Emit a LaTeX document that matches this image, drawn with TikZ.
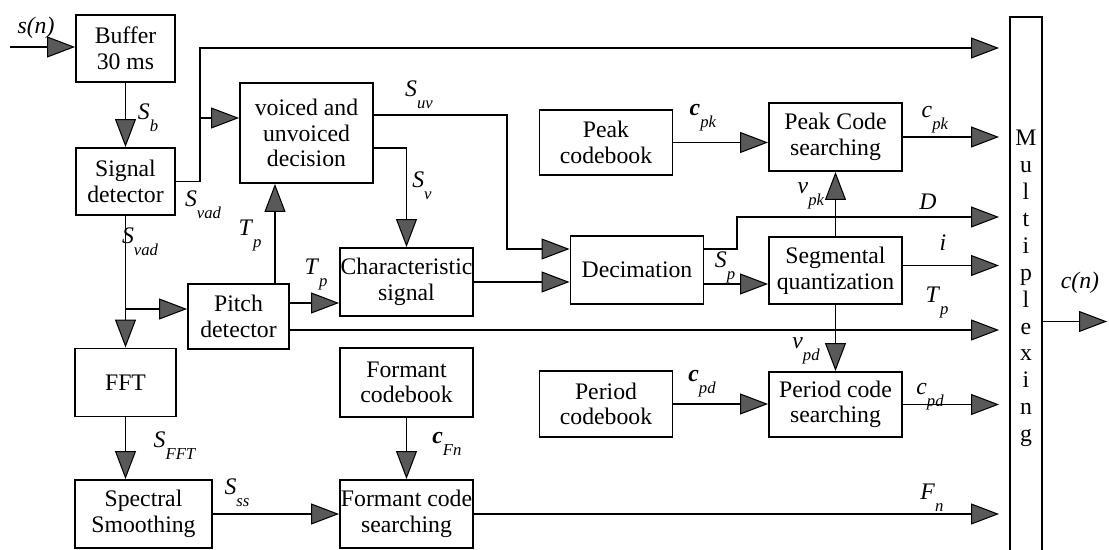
\documentclass[tikz,border=0pt]{standalone}
\usepackage{fontspec}
\setmainfont{Liberation Serif}
\usetikzlibrary{arrows.meta}
\newcommand{\lbl}[2]{\textit{#1}\raisebox{-1.1ex}{\fontsize{9.5}{9.5}\selectfont\textit{#2}}}
\newcommand{\tocol}{0.2cm}

\begin{document}
\begin{tikzpicture}[x=0.02cm,y=-0.02cm,line width=1.1pt,
  blk/.style={draw,inner sep=0pt,align=center,minimum width=1.98cm,minimum height=1.34cm,
    font=\fontsize{13.5}{14.6}\selectfont},
  wide/.style={blk,minimum width=2.66cm},
  flow/.style={-{Triangle[length=0.56cm,width=0.42cm,fill=black!65,line width=0.6pt]}},
  tomux/.style={flow,shorten >=\tocol},
  tag/.style={font=\fontsize{13.5}{14}\selectfont,inner sep=0pt}]

 \clip (0,0) rectangle (1109,550);

 % blocks
 \node[blk] (buf) at (125.5,48.5) {Buffer\\30 ms};
 \node[blk] (det) at (125.5,181.5) {Signal\\detector};
 \node[wide,minimum height=2cm] (vud) at (306.5,133) {voiced and\\unvoiced\\decision};
 \node[wide,minimum height=1.36cm] (chr) at (406.5,282) {Characteristic\\signal};
 \node[wide,minimum height=1.36cm] (dec) at (637,270) {Decimation};
 \node[wide,minimum height=1.3cm] (pkb) at (606,142.5) {Peak\\codebook};
 \node[wide,minimum height=1.36cm] (pks) at (835.5,137) {Peak Code\\searching};
 \node[wide] (seg) at (835.5,270.5) {Segmental\\quantization};
 \node[wide,minimum height=1.32cm] (pdb) at (606,404) {Period\\codebook};
 \node[wide,minimum height=1.3cm] (pds) at (835.5,404.5) {Period code\\searching};
 \node[blk,minimum width=2.02cm,minimum height=1.3cm] (pit) at (238.5,316.5) {Pitch\\detector};
 \node[blk,minimum width=2.02cm,minimum height=1.36cm] (fft) at (125.5,382.5) {FFT};
 \node[wide,minimum height=1.38cm] (fcb) at (406.5,382.5) {Formant\\codebook};
 \node[blk,minimum width=2.74cm,minimum height=1.36cm] (spc) at (143.5,514) {Spectral\\Smoothing};
 \node[wide,minimum height=1.36cm] (fcs) at (406.5,514) {Formant code\\searching};
 \node[draw,inner sep=0pt,align=center,minimum width=0.64cm,minimum height=10.86cm,
   font=\fontsize{13.5}{15.3}\selectfont] (mux) at (1026,288.5)
   {M\\u\\l\\t\\i\\p\\l\\e\\x\\i\\n\\g};

 % junctions
 \coordinate (sn) at (10,47);
 \coordinate (jtop) at (200,48);
 \coordinate (jvud) at (200,118);
 \coordinate (jpit) at (125,309);
 \coordinate (ptp) at ([xshift=0.73cm]pit.north);
 \coordinate (pto) at ([yshift=0.27cm]pit.east);
 \coordinate (ptl) at ([yshift=-0.27cm]pit.east);
 \coordinate (uvo) at ([yshift=0.36cm]vud.east);
 \coordinate (uvk) at (507,249);
 \coordinate (vo) at ([yshift=-0.3cm]vud.east);
 \coordinate (dco) at ([yshift=0.42cm]dec.east);
 \coordinate (dk) at (737,217);
 \coordinate (spo) at ([yshift=-0.28cm]dec.east);
 \coordinate (qo) at ([yshift=0.1cm]seg.east);
 \coordinate (mo) at ([yshift=-0.66cm]mux.east);
 \coordinate (cn) at (1107,318);

 % connectors
 \draw[flow] (sn) -- (sn -| buf.west);
 \draw[flow] (buf.south) -- (det.north);
 \draw[tomux] (det.east) -| (jtop) -- (jtop -| mux.west);
 \draw[flow] (jvud) -- (jvud -| vud.west);
 \draw[flow] (det.south) -- (fft.north);
 \draw[flow] (jpit) -- (jpit -| pit.west);
 \draw[flow] (ptp) -- (ptp |- vud.south);
 \draw[flow] (pto) -- (pto -| chr.west);
 \draw[tomux] (ptl) -- (ptl -| mux.west);
 \draw[flow] (uvo) -| (uvk) -- (uvk -| dec.west);
 \draw[flow] (vo) -| (chr.north);
 \draw[flow] (chr.east) -- (chr.east -| dec.west);
 \draw[tomux] (dco) -| (dk) -- (dk -| mux.west);
 \draw[flow] (spo) -- (spo -| seg.west);
 \draw[flow] (seg.north) -- (pks.south);
 \draw[flow] (seg.south) -- (pds.north);
 \draw[tomux] (qo) -- (qo -| mux.west);
 \draw[flow] (pkb.east) -- (pkb.east -| pks.west);
 \draw[tomux] (pks.east) -- (pks.east -| mux.west);
 \draw[flow] (pdb.east) -- (pdb.east -| pds.west);
 \draw[tomux] (pds.east) -- (pds.east -| mux.west);
 \draw[flow] (fft.south) -- (fft.south |- spc.north);
 \draw[flow] (fcb.south) -- (fcs.north);
 \draw[flow] (spc.east) -- (spc.east -| fcs.west);
 \draw[tomux] (fcs.east) -- (fcs.east -| mux.west);
 \draw[flow] (mo) -- (mo -| cn);

 % signal names
 \node[tag] (lsn) at (36,28) {\textit{s(n)}};
 \node[tag] (lcn) at (1080,283) {\textit{c(n)}};
 \node[tag] (lsb) at (148,118) {\lbl{S}{b}};
 \node[tag] (lvad1) at (203,205) {\lbl{S}{vad}};
 \node[tag] (lvad2) at (140,242) {\lbl{S}{vad}};
 \node[tag] (ltp1) at (250,236) {\lbl{T}{p}};
 \node[tag] (ltp2) at (316,275) {\lbl{T}{p}};
 \node[tag] (luv) at (419,95) {\lbl{S}{uv}};
 \node[tag] (lv) at (422,186) {\lbl{S}{v}};
 \node[tag] (lcpk1) at (703,118) {\lbl{\textbf{c}}{pk}};
 \node[tag] (lcpk2) at (935,120) {\lbl{c}{pk}};
 \node[tag] (lvpk) at (811,196) {\lbl{v}{pk}};
 \node[tag] (ld) at (928,202) {\textit{D}};
 \node[tag] (li) at (943,243) {\textit{i}};
 \node[tag] (lsp) at (725,267) {\lbl{S}{p}};
 \node[tag] (ltp3) at (937,303) {\lbl{T}{p}};
 \node[tag] (lvpd) at (806,351) {\lbl{v}{pd}};
 \node[tag] (lcpd1) at (702,384) {\lbl{\textbf{c}}{pd}};
 \node[tag] (lcpd2) at (930,397) {\lbl{c}{pd}};
 \node[tag] (lfn) at (932,498) {\lbl{F}{n}};
 \node[tag] (lfft) at (175,446) {\lbl{S}{FFT}};
 \node[tag] (lcfn) at (447,444) {\lbl{\textbf{c}}{Fn}};
 \node[tag] (lss) at (237,493) {\lbl{S}{ss}};

\end{tikzpicture}
\end{document}
